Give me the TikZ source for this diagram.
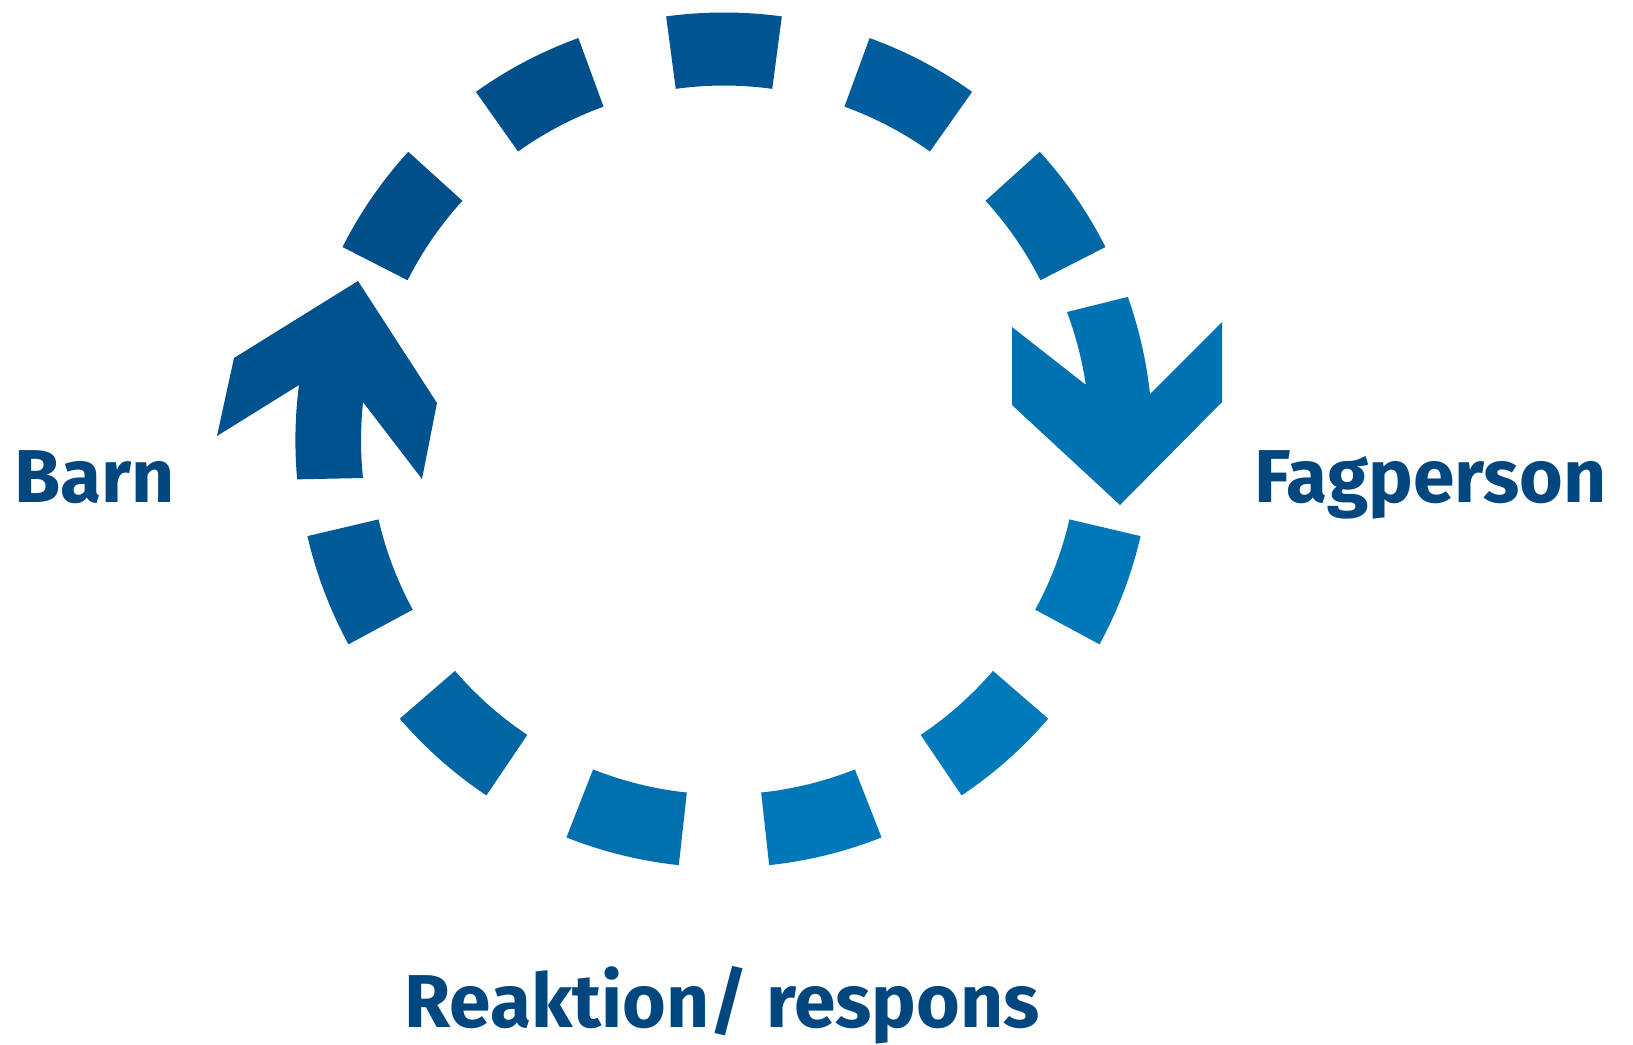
\documentclass[tikz,border=0pt]{standalone}
\usepackage{fontspec}
\setsansfont{Fira Sans}
\definecolor{darkblue}{RGB}{0,78,138}
\definecolor{lightblue}{RGB}{0,122,186}
\definecolor{textblue}{RGB}{0,70,127}

\begin{document}
\begin{tikzpicture}[x=0.01cm,y=0.01cm,
    word/.style={text=textblue,inner sep=0pt,anchor=base west,
      font=\sffamily\bfseries\fontsize{21.3}{26}\selectfont}]
\useasboundingbox (-724,-604) rectangle (909,440);

% dashed ring, 13 places, two of them taken by the arrows
\foreach \k in {0,1,2,4,5,6,7,8,9,11,12}{
  \pgfmathsetmacro\a{90-\k*360/13}
  \pgfmathtruncatemacro\t{50+50*cos(\a+45)}
  \draw[line width=0.73cm,lightblue!\t!darkblue] (\a+7.8:391)
    arc[start angle=\a+7.8,end angle=\a-7.8,radius=391];
}

% arrow on the right, pointing down
\fill[lightblue!81!darkblue] (288,113) -- (288,35) -- (396,-65) -- (498,38) -- (498,118)
  -- (426,46) arc[start angle=6.2,end angle=19.5,radius=430]
  -- (343,128) arc[start angle=20.5,end angle=8.5,radius=360] -- cycle;

% arrow on the left, pointing up
\fill[lightblue!9!darkblue] (-366,159) -- (-490,82) -- (-507,4)
  -- (-425,55) arc[start angle=172.6,end angle=185.2,radius=430]
  -- (-361,-38) arc[start angle=186,end angle=173.9,radius=360]
  -- (-302,-39) -- (-287,37) -- cycle;

\node[word] (barn) at (-710,-62) {Barn};
\node[word] (fagperson) at (530,-62) {Fagperson};
\node[word] (respons) at (-320,-587) {Reaktion/ respons};
\end{tikzpicture}
\end{document}
